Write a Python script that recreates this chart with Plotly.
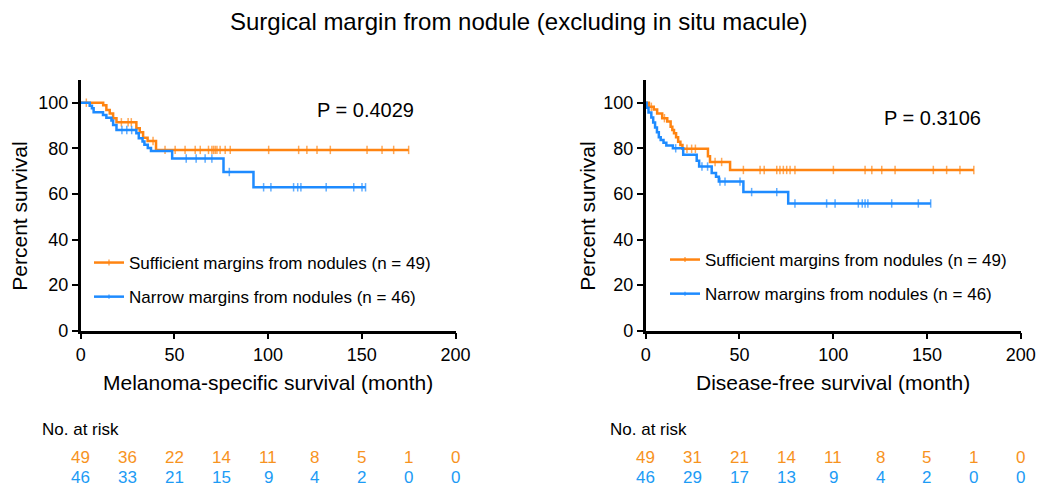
import bisect
import plotly.graph_objects as go

# ---------------- data ----------------
title_text = "Surgical margin from nodule (excluding in situ macule)"
group_names = ["Sufficient margins from nodules (n = 49)", "Narrow margins from nodules (n = 46)"]

# Melanoma-specific survival (left)
mss_suf_t = [0, 12.0, 13.7, 15.5, 17.3, 19.1, 29.7, 31.5, 33.3, 35.7, 40.2]
mss_suf_s = [100, 98.9, 96.8, 95.3, 93.2, 91.4, 88.8, 87.0, 84.6, 83.2, 79.3]
mss_suf_c = [3, 21.7, 25.3, 27, 38.6, 45, 50.4, 55.7, 61.1, 63.8, 68.2, 70, 70.9, 71.8, 72.7,
             74.4, 77.1, 79.8, 100.3, 116.3, 120.7, 126.1, 133.2, 152.8, 160.8, 167, 175]

mss_nar_t = [0, 4.8, 6.0, 6.9, 11.9, 13.7, 16.4, 17.3, 19.1, 29.7, 31.0, 33.0, 34.0, 35.8, 37.5, 48.8, 76.2, 92.2]
mss_nar_s = [100, 98.7, 97.6, 95.8, 94.6, 93.4, 92.2, 90.2, 88.0, 86.6, 84.4, 83.0, 81.6, 80.1, 78.8, 75.5, 69.6, 62.9]
mss_nar_c = [22, 24.6, 27.2, 56.3, 61.6, 66.4, 70, 79.3, 97.6, 101.5, 113.6, 115.8, 117.5, 131, 145.7, 150.1, 152]

# Disease-free survival (right)
dfs_suf_t = [0, 1.7, 4.3, 6.1, 8.8, 11.5, 13.3, 14.2, 15.1, 16.2, 17.3, 18.5, 19.6, 33.2, 34.3, 45.0]
dfs_suf_s = [100, 98.2, 97.0, 95.3, 93.2, 91.7, 89.5, 88.0, 86.6, 84.8, 82.9, 81.4, 79.8, 76.5, 74.0, 70.5]
dfs_suf_c = [3, 10, 22, 24.5, 26.5, 37, 40.5, 52.1, 61, 63.2, 69.9, 71.6, 73.4, 75.2, 77, 79.6,
             100.1, 117, 120.6, 125.9, 133, 153.4, 160.5, 167.6, 175]

dfs_nar_t = [0, 0.5, 1.5, 3.0, 4.0, 5.0, 6.0, 7.0, 8.0, 9.5, 11.0, 14.5, 20.0, 27.2, 28.5, 35.2, 37.5, 39.0, 52.1, 76.0]
dfs_nar_s = [100, 97.8, 95.7, 93.5, 91.3, 89.1, 87.0, 84.8, 83.6, 82.4, 81.2, 80.0, 77.2, 74.5, 72.0, 69.2, 67.5, 65.4, 60.8, 55.8]
dfs_nar_c = [16, 30, 33, 39.6, 42.3, 50.3, 56.5, 69.9, 79.6, 96.5, 101, 113.4, 115.5, 117, 118.5, 131.2, 145.4, 152]

p_values = ["P = 0.4029", "P = 0.3106"]
x_titles = ["Melanoma-specific survival (month)", "Disease-free survival (month)"]
y_title = "Percent survival"

risk_times = [0, 25, 50, 75, 100, 125, 150, 175, 200]
mss_risk_suf = [49, 36, 22, 14, 11, 8, 5, 1, 0]
mss_risk_nar = [46, 33, 21, 15, 9, 4, 2, 0, 0]
dfs_risk_suf = [49, 31, 21, 14, 11, 8, 5, 1, 0]
dfs_risk_nar = [46, 29, 17, 13, 9, 4, 2, 0, 0]

x_ticks = [0, 50, 100, 150, 200]
y_ticks = [0, 20, 40, 60, 80, 100]

# ---------------- style ----------------
FONT = "Liberation Sans, Arial, Helvetica, sans-serif"
ORANGE = "#FF8411"
BLUE = "#1E8BFF"
ORANGE_T = "#F7931E"
BLUE_T = "#1C9BF5"
W, H = 1038, 488


def km_points(t, s, c):
    pts = [(ti, si, 0, 0) for ti, si in zip(t, s)]
    for ci in c:
        idx = bisect.bisect_right(t, ci) - 1
        pts.append((ci, s[idx], 6, 1))
    pts.sort(key=lambda p: (p[0], p[3]))
    return [p[0] for p in pts], [p[1] for p in pts], [p[2] for p in pts]


fig = go.Figure()

panels = [
    ("x", "y", "legend", [(mss_suf_t, mss_suf_s, mss_suf_c, ORANGE), (mss_nar_t, mss_nar_s, mss_nar_c, BLUE)]),
    ("x2", "y2", "legend2", [(dfs_suf_t, dfs_suf_s, dfs_suf_c, ORANGE), (dfs_nar_t, dfs_nar_s, dfs_nar_c, BLUE)]),
]
for xa, ya, lg, groups in panels:
    for gi, (t, s, c, col) in enumerate(groups):
        xs, ys, sz = km_points(t, s, c)
        fig.add_trace(go.Scatter(
            x=xs, y=ys, xaxis=xa, yaxis=ya, mode="lines+markers",
            line=dict(color=col, width=2.5, shape="hv"),
            marker=dict(symbol="line-ns", size=sz, color=col, line=dict(color=col, width=1.5)),
            name=group_names[gi], legend=lg, legendgroup=f"{lg}_{gi}",
            hoverinfo="skip", cliponaxis=False,
        ))

axis_common = dict(
    showgrid=False, zeroline=False, showline=True, linecolor="black", linewidth=2.5,
    ticks="outside", ticklen=6, tickwidth=2, tickcolor="black", automargin=False,
    tickfont=dict(family=FONT, size=18, color="black"),
)

xd1 = [80.7 / W, 455.5 / W]
xd2 = [645.7 / W, 1020.7 / W]
yd = [1 - 330.7 / H, 1 - 79.9 / H]

fig.update_layout(
    width=W, height=H, margin=dict(l=0, r=0, t=0, b=0, autoexpand=False),
    paper_bgcolor="white", plot_bgcolor="white",
    font=dict(family=FONT, color="black"),
    xaxis=dict(domain=xd1, range=[0, 200], tickvals=x_ticks, anchor="y", **axis_common),
    yaxis=dict(domain=yd, range=[0, 110], tickvals=y_ticks, anchor="x", **axis_common),
    xaxis2=dict(domain=xd2, range=[0, 200], tickvals=x_ticks, anchor="y2", **axis_common),
    yaxis2=dict(domain=yd, range=[0, 110], tickvals=y_ticks, anchor="x2", **axis_common),
    legend=dict(x=89 / W, y=1 - 280 / H, xanchor="left", yanchor="middle",
                bgcolor="rgba(0,0,0,0)", font=dict(family=FONT, size=17, color="black"),
                tracegroupgap=9, traceorder="grouped"),
    legend2=dict(x=665 / W, y=1 - 277 / H, xanchor="left", yanchor="middle",
                 bgcolor="rgba(0,0,0,0)", font=dict(family=FONT, size=17, color="black"),
                 tracegroupgap=9, traceorder="grouped"),
    showlegend=True,
)

ann = []
ann.append(dict(text=title_text, x=0.5, y=1 - 22 / H, xref="paper", yref="paper",
                showarrow=False, font=dict(size=24, family=FONT, color="black"),
                xanchor="center", yanchor="middle"))
for i, (xr, yr) in enumerate([("x", "y"), ("x2", "y2")]):
    ann.append(dict(text=x_titles[i], x=100, y=1 - 382.7 / H, xref=xr, yref="paper",
                    showarrow=False, font=dict(size=21, family=FONT, color="black"),
                    xanchor="center", yanchor="middle"))
    ann.append(dict(text=y_title, x=[20, 588][i] / W, y=50, xref="paper", yref=yr,
                    textangle=-90, showarrow=False, font=dict(size=21, family=FONT, color="black"),
                    xanchor="center", yanchor="middle"))
ann.append(dict(text=p_values[0], x=152, y=96.8, xref="x", yref="y", showarrow=False,
                font=dict(size=20, family=FONT, color="black")))
ann.append(dict(text=p_values[1], x=152.7, y=93.3, xref="x2", yref="y2", showarrow=False,
                font=dict(size=20, family=FONT, color="black")))

for i, (xr, rs, rn, x0) in enumerate([("x", mss_risk_suf, mss_risk_nar, 40),
                                       ("x2", dfs_risk_suf, dfs_risk_nar, 608)]):
    ann.append(dict(text="No. at risk", x=x0 / W, y=1 - 429 / H, xref="paper", yref="paper",
                    showarrow=False, xanchor="left", yanchor="middle",
                    font=dict(size=17, family=FONT, color="black")))
    for tt, a, b in zip(risk_times, rs, rn):
        ann.append(dict(text=str(a), x=tt, y=1 - 457 / H, xref=xr, yref="paper",
                        showarrow=False, xanchor="center", yanchor="middle",
                        font=dict(size=17, family=FONT, color=ORANGE_T)))
        ann.append(dict(text=str(b), x=tt, y=1 - 477 / H, xref=xr, yref="paper",
                        showarrow=False, xanchor="center", yanchor="middle",
                        font=dict(size=17, family=FONT, color=BLUE_T)))

fig.update_layout(annotations=ann)
fig.write_html(
    "out.html",
    config={"displayModeBar": False},
    post_script="document.body.style.margin='0';document.body.style.overflow='hidden';",
)
